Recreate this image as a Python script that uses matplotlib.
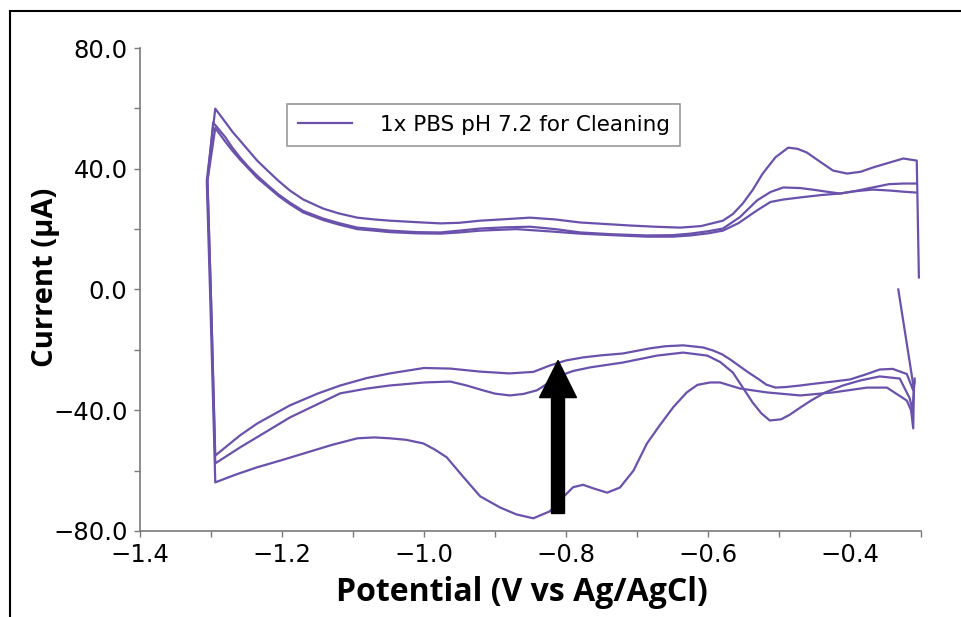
import numpy as np
import matplotlib
matplotlib.use("Agg")
import matplotlib.pyplot as plt
from matplotlib.lines import Line2D
from matplotlib.ticker import MultipleLocator, FuncFormatter

plt.rcParams['font.family'] = ['DejaVu Sans']

# cycle 1 (reduction peaks), cathodic branch then anodic branch
c1_bot_v = [-0.332, -0.310, -0.311, -0.314, -0.320, -0.348, -0.376, -0.424, -0.470, -0.517, -0.555,
            -0.583, -0.597, -0.615, -0.630, -0.649, -0.668, -0.686, -0.705, -0.724, -0.742, -0.760,
            -0.776, -0.790, -0.805, -0.823, -0.846, -0.870, -0.893, -0.921, -0.945, -0.968, -0.985,
            -1.001, -1.025, -1.048, -1.070, -1.094, -1.130, -1.165, -1.200, -1.235, -1.265, -1.294]
c1_bot_i = [0.0, -33.0, -46.0, -40.0, -36.8, -32.5, -32.5, -34.1, -35.1, -34.1, -32.8,
            -30.8, -30.8, -31.6, -34.1, -39.0, -45.0, -51.0, -60.0, -65.6, -67.3, -66.0,
            -64.7, -65.5, -69.0, -73.5, -75.8, -74.5, -72.2, -68.5, -62.0, -55.6, -53.0,
            -51.0, -49.8, -49.3, -49.0, -49.3, -51.5, -54.0, -56.5, -58.9, -61.3, -63.9]
c1_top_v = [-1.294, -1.301, -1.306, -1.294, -1.280, -1.270, -1.259, -1.247, -1.235, -1.220, -1.205,
            -1.189, -1.170, -1.142, -1.120, -1.094, -1.070, -1.048, -1.010, -0.977, -0.950, -0.921,
            -0.885, -0.851, -0.815, -0.780, -0.745, -0.710, -0.675, -0.639, -0.610, -0.579, -0.565,
            -0.551, -0.537, -0.523, -0.505, -0.487, -0.474, -0.461, -0.442, -0.424, -0.404, -0.385,
            -0.368, -0.345, -0.325, -0.306, -0.303]
c1_top_i = [-63.9, -3.6, 36.0, 59.9, 55.5, 52.3, 49.3, 46.0, 42.7, 39.3, 36.0,
            32.8, 29.8, 26.8, 25.2, 23.8, 23.2, 22.8, 22.3, 21.9, 22.1, 22.8,
            23.3, 23.8, 23.2, 22.2, 21.7, 21.2, 20.8, 20.5, 21.0, 22.8, 25.0,
            28.5, 33.0, 38.4, 43.8, 47.0, 46.6, 45.4, 42.3, 39.4, 38.4, 39.0,
            40.4, 42.0, 43.4, 42.7, 4.0]

# cycle 2
c2_bot_v = [-0.309, -0.312, -0.316, -0.330, -0.358, -0.385, -0.410, -0.435, -0.455, -0.470, -0.485,
            -0.497, -0.513, -0.525, -0.537, -0.551, -0.565, -0.583, -0.601, -0.635, -0.672, -0.720,
            -0.766, -0.790, -0.808, -0.825, -0.841, -0.860, -0.879, -0.900, -0.917, -0.940, -0.963,
            -1.000, -1.048, -1.080, -1.118, -1.150, -1.189, -1.225, -1.259, -1.294]
c2_bot_i = [-29.5, -40.0, -36.0, -29.5, -28.8, -30.1, -31.8, -34.1, -36.8, -39.1, -41.5,
            -43.0, -43.4, -41.0, -37.5, -32.5, -27.5, -24.0, -21.9, -20.9, -21.9, -24.2,
            -25.8, -27.0, -28.5, -31.0, -33.4, -34.6, -35.1, -34.5, -33.4, -31.8, -30.5,
            -30.8, -31.8, -32.8, -34.4, -38.0, -42.4, -47.5, -52.3, -57.6]
c2_top_v = [-1.294, -1.300, -1.305, -1.297, -1.280, -1.270, -1.259, -1.247, -1.235, -1.220, -1.205,
            -1.189, -1.170, -1.142, -1.120, -1.094, -1.070, -1.048, -1.010, -0.977, -0.950, -0.921,
            -0.885, -0.851, -0.815, -0.780, -0.735, -0.686, -0.650, -0.625, -0.600, -0.579, -0.555,
            -0.531, -0.512, -0.494, -0.470, -0.450, -0.430, -0.414, -0.395, -0.368, -0.345, -0.325,
            -0.306]
c2_top_i = [-57.6, -3.0, 36.0, 55.3, 50.5, 47.0, 43.7, 40.5, 37.7, 34.5, 31.5,
            28.8, 26.0, 23.5, 22.0, 20.5, 20.0, 19.5, 19.0, 18.9, 19.5, 20.2,
            20.6, 20.8, 20.0, 18.9, 18.3, 17.9, 18.0, 18.5, 19.3, 20.2, 24.0,
            29.5, 32.3, 33.8, 33.6, 33.0, 32.3, 31.8, 32.5, 33.8, 34.9, 35.1,
            35.1]

# cycle 3
c3_bot_v = [-0.309, -0.311, -0.320, -0.340, -0.358, -0.380, -0.400, -0.424, -0.450, -0.470, -0.490,
            -0.505, -0.518, -0.530, -0.543, -0.555, -0.568, -0.580, -0.593, -0.607, -0.635, -0.660,
            -0.682, -0.720, -0.750, -0.776, -0.800, -0.823, -0.846, -0.880, -0.921, -0.963, -1.000,
            -1.048, -1.080, -1.118, -1.150, -1.189, -1.235, -1.259, -1.294]
c3_bot_i = [-30.5, -33.4, -28.0, -26.3, -26.5, -28.3, -29.8, -30.5, -31.2, -31.8, -32.3,
            -32.5, -31.5, -29.5, -27.5, -25.5, -23.3, -21.5, -20.2, -19.2, -18.5, -18.8,
            -19.5, -21.2, -21.8, -22.5, -23.5, -25.2, -27.3, -27.8, -27.2, -26.2, -26.0,
            -27.8, -29.3, -31.8, -34.5, -38.4, -44.4, -48.3, -55.0]
c3_top_v = [-1.294, -1.300, -1.305, -1.294, -1.280, -1.270, -1.259, -1.247, -1.235, -1.220, -1.205,
            -1.189, -1.170, -1.142, -1.120, -1.094, -1.070, -1.048, -1.010, -0.977, -0.950, -0.921,
            -0.870, -0.820, -0.780, -0.735, -0.686, -0.650, -0.625, -0.600, -0.579, -0.557, -0.531,
            -0.512, -0.494, -0.470, -0.440, -0.414, -0.395, -0.368, -0.345, -0.325, -0.306]
c3_top_i = [-55.0, -3.0, 36.0, 53.5, 49.0, 46.0, 43.0, 40.0, 37.0, 34.0, 31.0,
            28.3, 25.5, 23.0, 21.5, 20.0, 19.5, 19.0, 18.6, 18.5, 18.9, 19.5,
            20.0, 19.2, 18.5, 18.0, 17.5, 17.5, 17.9, 18.6, 19.5, 22.0, 26.2,
            29.0, 29.8, 30.5, 31.3, 31.8, 32.5, 33.1, 32.8, 32.4, 32.1]

legend_label = '1x PBS pH 7.2 for Cleaning'
purple = '#6a51ab'

fig = plt.figure(figsize=(9.61, 6.17), dpi=100)
ax = fig.add_axes([0.1457, 0.1394, 0.8127, 0.7828])

cycles = [(c1_bot_v, c1_bot_i, c1_top_v, c1_top_i),
          (c2_bot_v, c2_bot_i, c2_top_v, c2_top_i),
          (c3_bot_v, c3_bot_i, c3_top_v, c3_top_i)]
for k, (bv, bi, tv, ti) in enumerate(cycles):
    v = np.concatenate([bv, tv])
    i = np.concatenate([bi, ti])
    ax.plot(v, i, color=purple, lw=1.6, label=legend_label if k == 0 else None,
            solid_joinstyle='round')

# arrow pointing at the cleaned-up region
ax.arrow(-0.8113, -74.2, 0, 50.7, width=0.0183, head_width=0.052, head_length=12.3,
         length_includes_head=True, color='black', zorder=5)

ax.set_xlim(-1.4, -0.3)
ax.set_ylim(-80, 80)
ax.xaxis.set_major_locator(MultipleLocator(0.2))
ax.xaxis.set_minor_locator(MultipleLocator(0.1))
ax.yaxis.set_major_locator(MultipleLocator(40))
ax.yaxis.set_minor_locator(MultipleLocator(20))
ax.xaxis.set_major_formatter(FuncFormatter(lambda x, p: f'{x:.1f}'.replace('-', '\u2212')))
ax.yaxis.set_major_formatter(FuncFormatter(lambda y, p: f'{y:.1f}'.replace('-', '\u2212')))

for s in ['top', 'right']:
    ax.spines[s].set_visible(False)
for s in ['left', 'bottom']:
    ax.spines[s].set_color('#7a7a7a')
    ax.spines[s].set_linewidth(1.2)
ax.tick_params(which='both', direction='out', color='#7a7a7a', width=1.0, length=4,
               labelsize=17.5, labelcolor='black', pad=5)

ax.set_xlabel('Potential (V vs Ag/AgCl)', fontsize=23, fontweight='bold', family='Open Sans')
ax.set_ylabel('Current (\u00b5A)', fontsize=21, fontweight='bold', family='Open Sans')
ax.xaxis.set_label_coords(0.4885, -0.093)
ax.yaxis.set_label_coords(-0.103, 0.526)

leg = ax.legend(loc='upper left', bbox_to_anchor=(0.1882, 0.884), fontsize=15.5, frameon=True,
                fancybox=False, edgecolor='#808080', handlelength=2.5, handletextpad=1.3,
                borderpad=0.5, borderaxespad=0)
leg.get_frame().set_linewidth(1.2)

# screenshot frame (top and left edges)
fig.add_artist(Line2D([10 / 961, 1.0], [1 - 11 / 617, 1 - 11 / 617], color='black', lw=1.5))
fig.add_artist(Line2D([10 / 961, 10 / 961], [0.0, 1 - 11 / 617], color='black', lw=1.5))

fig.savefig('out.png', dpi=100)
